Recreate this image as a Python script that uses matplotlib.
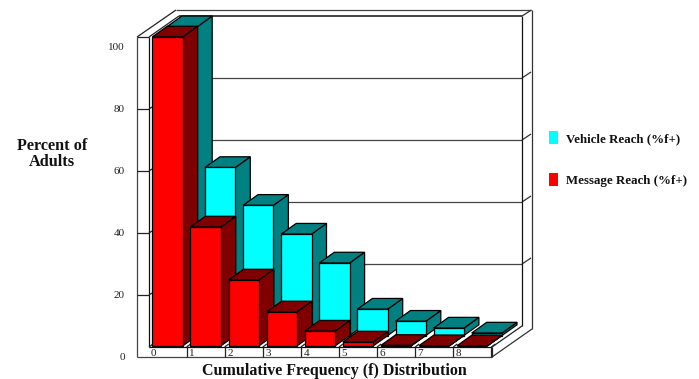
import matplotlib

matplotlib.use("Agg")
import matplotlib.pyplot as plt

FREQUENCY = [0, 1, 2, 3, 4, 5, 6, 7, 8]
VEHICLE_REACH = [99.6, 54.2, 42.0, 32.7, 23.4, 8.5, 4.6, 2.4, 0.8]
MESSAGE_REACH = [99.7, 38.4, 21.3, 11.0, 4.8, 1.3, 0.2, 0.1, 0.1]
Y_TICKS = [0, 20, 40, 60, 80, 100]

WIDTH, HEIGHT = 699, 379
X_STEP = 38.1  # pixels per category
Y_STEP = 3.1  # pixels per percent
X_ZERO, Y_ZERO = 152.3, 346.0  # pixel position of the first red bar's corner
BAR_WIDTH = 30.3 / X_STEP
DEPTH_X = 15.0 / X_STEP
DEPTH_Y = 10.7 / Y_STEP
ROW_X = 14.6 / X_STEP
ROW_Y = 10.5 / Y_STEP

plt.rcParams["font.family"] = ["Liberation Serif", "DejaVu Serif"]

fig = plt.figure(figsize=(WIDTH / 100, HEIGHT / 100), dpi=100)

# frame and text are laid out in pixels, the bars in category / percent units
frame = fig.add_axes([0, 0, 1, 1])
frame.set_xlim(0, WIDTH)
frame.set_ylim(HEIGHT, 0)
frame.axis("off")

ax = fig.add_axes([0, 0, 1, 1])
ax.set_xlim(-X_ZERO / X_STEP, (WIDTH - X_ZERO) / X_STEP)
ax.set_ylim((Y_ZERO - HEIGHT) / Y_STEP, Y_ZERO / Y_STEP)
ax.axis("off")
ax.patch.set_alpha(0)


def frame_line(xs, ys, color="#222222", lw=0.9):
    frame.plot(xs, ys, color=color, lw=lw, solid_capstyle="butt")


# back wall with gridlines
for tick in Y_TICKS[1:-1]:
    y_back = 326 - tick * Y_STEP
    frame_line([179, 522], [y_back, y_back], color="#444444")
    frame_line([522, 531], [y_back, y_back - 6], color="#333333")
frame_line([176, 531], [10, 10], color="#444444")
frame_line([179, 522], [16, 16], color="#111111", lw=1.1)
frame_line([522, 522], [16, 326], color="#111111")
frame_line([531.5, 531.5], [10, 329], color="#333333")
frame_line([522, 531.5], [16, 10], color="#333333")

# left wall
frame_line([137, 137], [37, 357], color="#444444")
frame_line([149, 149], [37, 347], color="#111111")
frame_line([137, 149], [37, 37], color="#222222")
frame_line([137, 176], [37, 10], color="#222222")
frame_line([149, 179], [37, 16], color="#222222")
for tick in Y_TICKS[1:-1]:
    y_front = 357 - tick * Y_STEP
    frame_line([137, 149], [y_front, y_front])
    frame_line([149, 152], [y_front, y_front - 2])

# floor slab
frame_line([137, 492], [357, 357], color="#444444")
frame_line([149, 492], [347, 347], color="#111111")
frame_line([492, 492], [347, 357])
frame_line([492, 532], [357, 329], color="#333333")
frame_line([492, 522], [347, 326], color="#222222")
frame_line([149, 153], [347, 344])
for category in FREQUENCY:
    x_sep = 148.5 + (category + 1) * X_STEP
    frame_line([x_sep, x_sep], [347, 357])
    frame_line([x_sep, x_sep + 4], [347, 344])
    frame.text(x_sep - X_STEP + 2.5, 353, str(category), fontsize=8, va="center", ha="left", color="#222222")


def draw_bar(x, value, y_base, front_color, side_color, zorder):
    x0, x1 = x, x + BAR_WIDTH
    y0, y1 = y_base, y_base + value
    style = dict(edgecolor="black", linewidth=0.9, joinstyle="miter", zorder=zorder)
    ax.fill(
        [x1, x1 + DEPTH_X, x1 + DEPTH_X, x1],
        [y0, y0 + DEPTH_Y, y1 + DEPTH_Y, y1],
        facecolor=side_color,
        **style,
    )
    ax.fill(
        [x0, x1, x1 + DEPTH_X, x0 + DEPTH_X],
        [y1, y1, y1 + DEPTH_Y, y1 + DEPTH_Y],
        facecolor=side_color,
        **style,
    )
    ax.fill([x0, x1, x1, x0], [y0, y0, y1, y1], facecolor=front_color, **style)


for category, value in zip(FREQUENCY, VEHICLE_REACH):
    draw_bar(category + ROW_X, value, ROW_Y, "#00FFFF", "#008080", 2 + category * 0.01)
for category, value in zip(FREQUENCY, MESSAGE_REACH):
    draw_bar(category, value, 0, "#FF0000", "#800000", 3 + category * 0.01)

# y tick labels sit ten pixels below their gridlines
for tick in Y_TICKS:
    frame.text(125, 357 - tick * Y_STEP, str(tick), fontsize=8, ha="right", va="center", color="#222222")

frame.text(52, 146, "Percent of", fontsize=11.7, fontweight="bold", ha="center", va="center", color="#111111")
frame.text(52, 162, "Adults", fontsize=11.7, fontweight="bold", ha="center", va="center", color="#111111")
frame.text(334.5, 371, "Cumulative Frequency (f) Distribution", fontsize=11.5, fontweight="bold", ha="center", va="center", color="#111111")

# legend
for label, color, y_mid in [("Vehicle Reach (%f+)", "#00FFFF", 137), ("Message Reach (%f+)", "#FF0000", 179)]:
    frame.fill([549, 558, 558, 549], [y_mid - 6.5, y_mid - 6.5, y_mid + 6.5, y_mid + 6.5], facecolor=color, edgecolor="none")
    frame.text(565.5, y_mid + 2, label, fontsize=9.3, fontweight="bold", ha="left", va="center", color="#111111")

fig.savefig("out.png", dpi=100, facecolor="white")
plt.close(fig)
